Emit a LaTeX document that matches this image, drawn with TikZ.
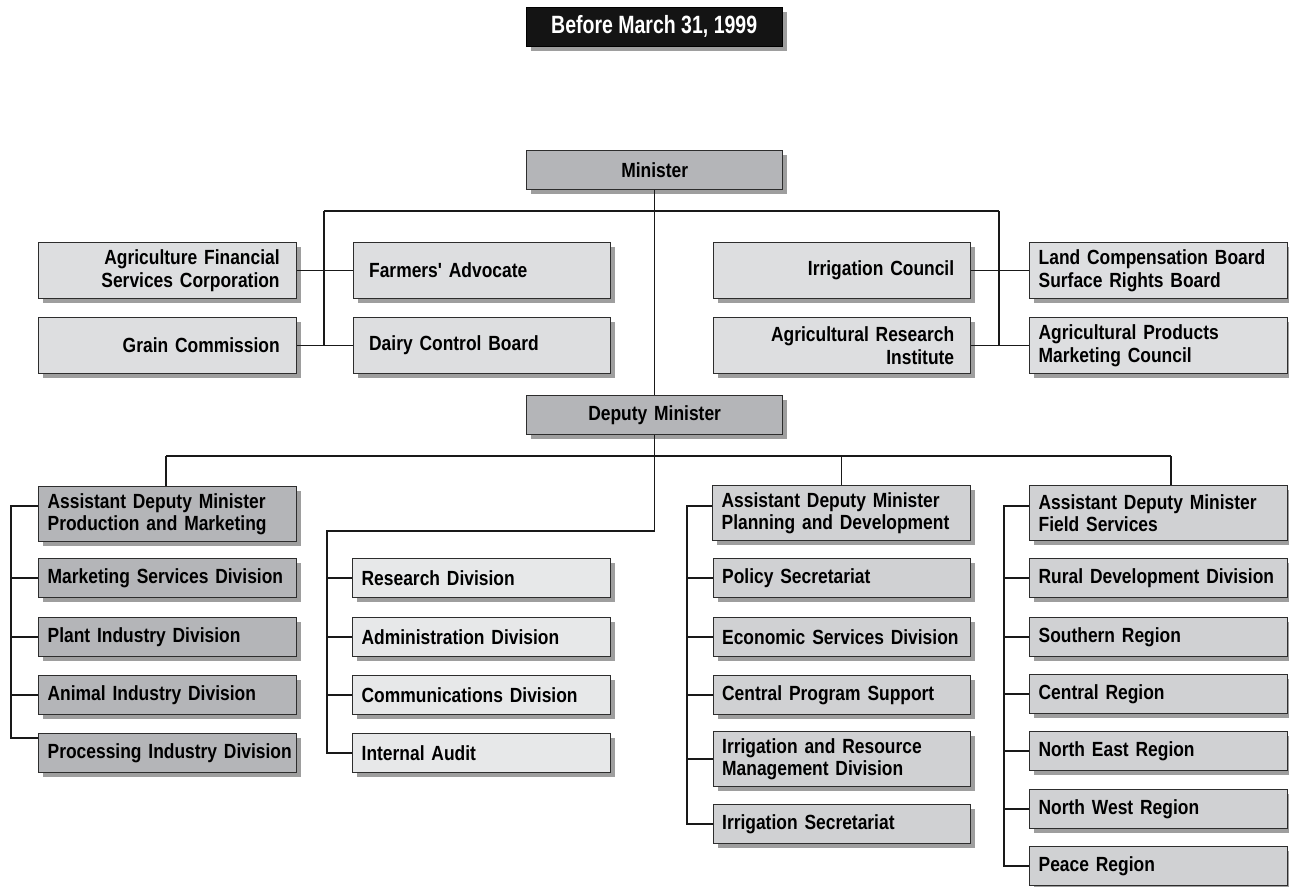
\documentclass[tikz,border=0pt]{standalone}
\usepackage{fontspec}
\newfontfamily\bodyfont{Liberation Sans}[FakeStretch=0.85]
\newfontfamily\titlefont{Liberation Sans}[FakeStretch=0.78]
\usetikzlibrary{shadows,calc}
\definecolor{cDark}{RGB}{180,181,184}
\definecolor{cSide}{RGB}{221,222,224}
\definecolor{cMid}{RGB}{231,232,233}
\definecolor{cRight}{RGB}{208,209,211}
\definecolor{cLine}{RGB}{45,45,45}
\tikzset{
  base/.style={draw=cLine, line width=1.3pt, rectangle, inner xsep=0pt, inner ysep=0pt,
    minimum width=258pt, minimum height=39pt, anchor=north west,
    font=\bodyfont\bfseries\fontsize{20.5pt}{22.5pt}\selectfont, text=black,
    drop shadow={shadow xshift=4.5pt, shadow yshift=-4.5pt, fill=black!38, opacity=1}},
  L/.style={base, text width=240pt, align=left},
  Lw/.style={base, text width=226pt, align=left},
  R/.style={base, text width=224pt, align=right},
  C/.style={base, text width=240pt, align=center},
  tall/.style={minimum height=56pt},
  dark/.style={fill=cDark},
  side/.style={fill=cSide},
  mid/.style={fill=cMid},
  rgt/.style={fill=cRight},
  titlebox/.style={rectangle, fill=black!92, draw=black, anchor=north west, minimum width=256pt,
    minimum height=39pt, inner sep=0pt, text=white, align=center,
    font=\titlefont\bfseries\fontsize{25pt}{28pt}\selectfont,
    drop shadow={shadow xshift=4.5pt, shadow yshift=-4.5pt, fill=black!38, opacity=1}},
  conn/.style={line width=1.5pt, draw=black!90}
}
\begin{document}
\begin{tikzpicture}[x=1pt,y=-1pt]
\useasboundingbox (0,0) rectangle (1289,886);

% title
\node[titlebox] (title) at (526,7) {Before March 31, 1999};

% top level
\node[C,dark,minimum width=256pt] (min) at (526,150) {Minister};
\node[C,dark,minimum width=256pt] (dep) at (526,395) {Deputy Minister};

\node[R,side,tall] (afsc) at (38,242) {Agriculture Financial\\Services Corporation};
\node[R,side,tall] (gc) at (38,317) {Grain Commission};
\node[Lw,side,tall,minimum width=257pt] (fa) at (353,242) {Farmers' Advocate};
\node[Lw,side,tall,minimum width=257pt] (dcb) at (353,317) {Dairy Control Board};
\node[R,side,tall,minimum width=257pt] (ic) at (713,242) {Irrigation Council};
\node[R,side,tall,minimum width=257pt] (ari) at (713,317) {Agricultural Research\\Institute};
\node[L,side,tall] (lcb) at (1029,242) {Land Compensation Board\\Surface Rights Board};
\node[L,side,tall] (apmc) at (1029,317) {Agricultural Products\\Marketing Council};

% left column
\node[L,dark,tall,minimum height=55pt] (adma) at (38,486) {Assistant Deputy Minister\\Production and Marketing};
\node[L,dark] (msd) at (38,558) {Marketing Services Division};
\node[L,dark] (pid) at (38,617) {Plant Industry Division};
\node[L,dark] (aid) at (38,675) {Animal Industry Division};
\node[L,dark] (prid) at (38,733) {\mbox{Processing Industry Division}};

% middle column
\node[L,mid] (rd) at (352,558) {Research Division};
\node[L,mid] (ad) at (352,617) {Administration Division};
\node[L,mid] (cd) at (352,675) {Communications Division};
\node[L,mid] (iad) at (352,733) {Internal Audit};

% planning column
\node[L,rgt,tall,minimum height=55pt] (admc) at (712,485) {Assistant Deputy Minister\\Planning and Development};
\node[L,rgt,minimum width=257pt] (ps) at (713,558) {Policy Secretariat};
\node[L,rgt,minimum width=257pt] (esd) at (713,617) {Economic Services Division};
\node[L,rgt,minimum width=257pt] (cps) at (713,675) {Central Program Support};
\node[L,rgt,tall,minimum height=55pt,minimum width=257pt] (irmd) at (713,731) {Irrigation and Resource\\Management Division};
\node[L,rgt,minimum width=257pt] (isec) at (713,804) {Irrigation Secretariat};

% field services column
\node[L,rgt,tall,minimum height=55pt] (admd) at (1029,485) {Assistant Deputy Minister\\Field Services};
\node[L,rgt] (rdd) at (1029,558) {Rural Development Division};
\node[L,rgt] (sr) at (1029,617) {Southern Region};
\node[L,rgt] (cr) at (1029,674) {Central Region};
\node[L,rgt] (ner) at (1029,731) {North East Region};
\node[L,rgt] (nwr) at (1029,789) {North West Region};
\node[L,rgt] (pr) at (1029,846) {Peace Region};

% connectors: top
\coordinate (tl) at (324,211);
\coordinate (tr) at (999,211);
\draw[conn] (min.south) -- (min.south |- dep.north);
\draw[conn] (tl) -- (tr);
\draw[conn] (tl) -- (tl |- gc.east);
\draw[conn] (tr) -- (tr |- ari.east);
\draw[conn] (afsc.east) -- (fa.west);
\draw[conn] (gc.east) -- (dcb.west);
\draw[conn] (ic.east) -- (lcb.west);
\draw[conn] (ari.east) -- (apmc.west);

% connectors: deputy level
\coordinate (bl) at (166,456);
\coordinate (br) at (1171,456);
\coordinate (mj) at (327,531);
\draw[conn] (bl) -- (br);
\draw[conn] (bl) -- (bl |- adma.north);
\draw[conn] (admc.north |- bl) -- (admc.north);
\draw[conn] (br) -- (br |- admd.north);
\draw[conn] (dep.south) -- (dep.south |- mj) -- (mj) -- (mj |- iad.west) -- (iad.west);
\foreach \n in {rd,ad,cd} \draw[conn] (mj |- \n.west) -- (\n.west);

% left spine
\coordinate (ls) at (11,506);
\coordinate (lpe) at ($(prid.north west)+(0,5)$);
\draw[conn] (adma.west |- ls) -- (ls) -- (ls |- lpe) -- (lpe);
\foreach \n in {msd,pid,aid} \draw[conn] (ls |- \n.west) -- (\n.west);

% planning spine
\coordinate (pc) at (687,506);
\draw[conn] (admc.west |- pc) -- (pc) -- (pc |- isec.west) -- (isec.west);
\foreach \n in {ps,esd,cps,irmd} \draw[conn] (pc |- \n.west) -- (\n.west);

% field spine
\coordinate (fc) at (1004,506);
\draw[conn] (admd.west |- fc) -- (fc) -- (fc |- pr.west) -- (pr.west);
\foreach \n in {rdd,sr,cr,ner,nwr} \draw[conn] (fc |- \n.west) -- (\n.west);
\end{tikzpicture}
\end{document}
